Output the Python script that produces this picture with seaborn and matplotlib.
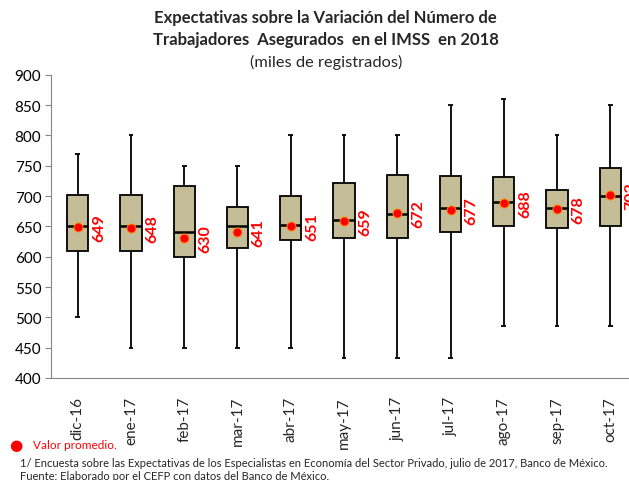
import pandas as pd
import numpy as np
import matplotlib
matplotlib.use("Agg")
import matplotlib.pyplot as plt
import seaborn as sns

# --- datos (miles de registrados) ---
meses = ["dic-16", "ene-17", "feb-17", "mar-17", "abr-17", "may-17",
         "jun-17", "jul-17", "ago-17", "sep-17", "oct-17"]
bigote_inf = [500, 450, 450, 450, 450, 433, 433, 433, 485, 485, 485]
cuartil_1 = [610, 610, 600, 615, 628, 630, 630, 640, 651, 648, 650]
mediana = [650, 650, 640, 650, 653, 661, 671, 680, 690, 680, 700]
cuartil_3 = [702, 702, 717, 682, 700, 721, 734, 733, 732, 710, 746]
bigote_sup = [770, 800, 750, 750, 800, 800, 800, 850, 860, 800, 850]
promedio = [649, 648, 630, 641, 651, 659, 672, 677, 688, 678, 702]

# cinco puntos por mes -> percentiles 0/25/50/75/100 exactos
filas = []
for i, mes in enumerate(meses):
    for v in (bigote_inf[i], cuartil_1[i], mediana[i], cuartil_3[i], bigote_sup[i]):
        filas.append({"mes": mes, "valor": v})
df = pd.DataFrame(filas)
df_prom = pd.DataFrame({"mes": meses, "promedio": promedio})

sns.set_style("white")
plt.rcParams["font.family"] = ["Lato", "DejaVu Sans"]

fig = plt.figure(figsize=(6.29, 4.81), dpi=100)
ax = fig.add_axes([51 / 629, 102 / 481, 586 / 629, 303.3 / 481])

sns.boxplot(data=df, x="mes", y="valor", order=meses, whis=(0, 100), width=0.4,
            color="#C4BD97", saturation=1, linecolor="black", linewidth=1.3,
            medianprops={"linewidth": 1.8}, ax=ax)

# tapas cortas en los bigotes
for cont in ax.containers:
    for cap in cont.caps:
        c = np.mean(cap.get_xdata())
        cap.set_xdata([c - 0.045, c + 0.045])
        cap.set_solid_capstyle("butt")

sns.stripplot(data=df_prom, x="mes", y="promedio", order=meses, jitter=False,
              color="red", size=6.5, edgecolor="#FF8C00", linewidth=0.7,
              zorder=5, ax=ax)

for i, m in enumerate(promedio):
    ax.text(i + 0.40, m, f"{m}", rotation=90, color="red", fontweight="bold",
            fontsize=11.5, ha="center", va="center", clip_on=False)

ax.set_xlim(-0.5, 10.5)
ax.set_ylim(400, 900)
ax.set_yticks(np.arange(400, 901, 50))
ax.set_xlabel("")
ax.set_ylabel("")
ax.set_xticks(np.arange(len(meses)))
ax.set_xticklabels(meses, rotation=90, fontsize=11)
ax.set_xticks(np.arange(-0.5, len(meses), 1), minor=True)
ax.tick_params(axis="x", which="major", length=0, pad=13)
ax.tick_params(axis="x", which="minor", length=4, color="#868686", direction="out")
ax.tick_params(axis="y", length=4, color="#868686", direction="out", labelsize=11,
               labelcolor="black", pad=3)
ax.tick_params(left=True)
for lado in ["top", "right"]:
    ax.spines[lado].set_visible(False)
for lado in ["left", "bottom"]:
    ax.spines[lado].set_color("#868686")
    ax.spines[lado].set_linewidth(0.8)

fig.text(0.518, 0.963, "Expectativas sobre la Variación del Número de",
         ha="center", va="center", fontsize=12, fontweight="bold")
fig.text(0.518, 0.917, "Trabajadores  Asegurados  en el IMSS  en 2018",
         ha="center", va="center", fontsize=12, fontweight="bold")
fig.text(0.518, 0.871, "(miles de registrados)", ha="center", va="center", fontsize=11.8)

fig.text(0.025, 0.073, "●", color="red", ha="center", va="center", fontsize=11,
         family=["DejaVu Sans"])
fig.text(0.052, 0.073, "Valor promedio.", color="red", ha="left", va="center", fontsize=8.5)
fig.text(0.032, 0.037, "1/ Encuesta sobre las Expectativas de los Especialistas en Economía del Sector Privado, julio de 2017, Banco de México.",
         ha="left", va="center", fontsize=8)
fig.text(0.032, 0.009, "Fuente: Elaborado por el CEFP con datos del Banco de México.",
         ha="left", va="center", fontsize=8)

fig.savefig("out.png", dpi=100)
